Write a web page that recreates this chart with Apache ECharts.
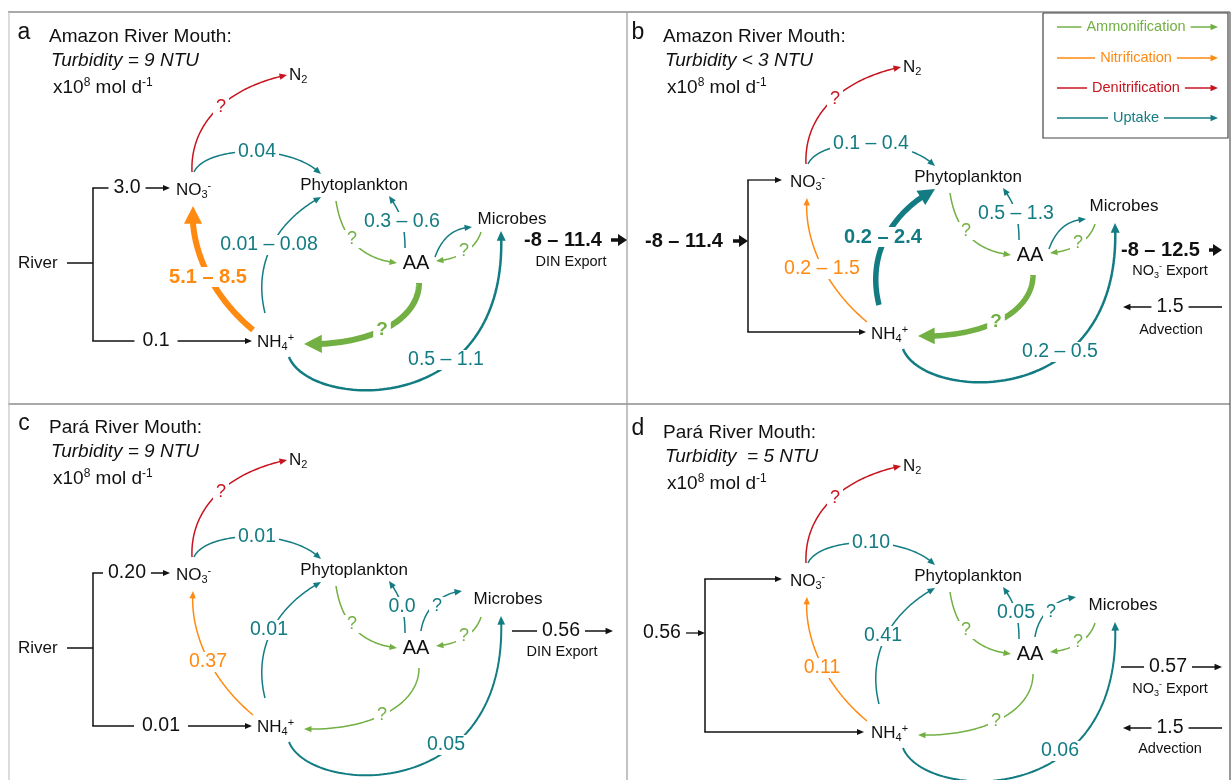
<!DOCTYPE html>
<html><head><meta charset="utf-8">
<script src="https://cdn.jsdelivr.net/npm/echarts@6/dist/echarts.min.js"></script>
<style>html,body{margin:0;padding:0;background:#fff}#c{width:1231px;height:780px}</style>
</head><body><div id="c"></div>
<script>
// ---------------- DATA ----------------
const panelLetters = ['a', 'b', 'c', 'd'];
const panelTitles = ['Amazon River Mouth:', 'Amazon River Mouth:', 'Pará River Mouth:', 'Pará River Mouth:'];
const turbidity = ['Turbidity = 9 NTU', 'Turbidity < 3 NTU', 'Turbidity = 9 NTU', 'Turbidity  = 5 NTU'];
const nodeNames = ['N2', 'NO3-', 'Phytoplankton', 'Microbes', 'AA', 'NH4+'];
const riverToNO3 = ['3.0', '', '0.20', ''];
const riverToNH4 = ['0.1', '', '0.01', ''];
const importFlux = ['', '-8 – 11.4', '', '0.56'];
const denitrification = ['?', '?', '?', '?'];
const uptakeNO3Phyto = ['0.04', '0.1 – 0.4', '0.01', '0.10'];
const nitrification = ['5.1 – 8.5', '0.2 – 1.5', '0.37', '0.11'];
const uptakeNH4Phyto = ['0.01 – 0.08', '0.2 – 2.4', '0.01', '0.41'];
const ammonPhytoAA = ['?', '?', '?', '?'];
const uptakeAAPhyto = ['0.3 – 0.6', '0.5 – 1.3', '0.0', '0.05'];
const uptakeAAMicrobes = ['', '', '?', '?'];
const ammonMicrobesAA = ['?', '?', '?', '?'];
const ammonAANH4 = ['?', '?', '?', '?'];
const uptakeNH4Microbes = ['0.5 – 1.1', '0.2 – 0.5', '0.05', '0.06'];
const exportFlux = ['-8 – 11.4', '-8 – 12.5', '0.56', '0.57'];
const exportName = ['DIN Export', 'NO3- Export', 'DIN Export', 'NO3- Export'];
const advection = ['', '1.5', '', '1.5'];
const legendNames = ['Ammonification', 'Nitrification', 'Denitrification', 'Uptake'];
const legendProcs = ['ammonification', 'nitrification', 'denitrification', 'uptake'];

// ---------------- STYLE / LAYOUT ----------------
const FONT = '"Liberation Sans", Arial, "DejaVu Sans", sans-serif';
const COLORS = { ammonification: '#72b043', nitrification: '#ff8a12', denitrification: '#c8141e', uptake: '#137c82', black: '#111111' };
const FLUX = { denitrification, uptakeNO3Phyto, nitrification, uptakeNH4Phyto, ammonPhytoAA, uptakeAAPhyto, uptakeAAMicrobes, ammonMicrobesAA, ammonAANH4, uptakeNH4Microbes };
const WIDTH = { nitrification: [6, 1.5, 1.5, 1.5], ammonAANH4: [6, 5.5, 1.5, 1.5], uptakeNH4Phyto: [1.5, 5.5, 1.5, 1.5], uptakeNH4Microbes: [2.5, 2.5, 2, 2] };
const PANEL_OFFSET = [[0, 0], [614, -8], [0, 385], [614, 391]];
const TITLE_OFFSET = [[0, 0], [614, 0], [0, 391], [614, 396]];
const NODE_LAYOUT = [[289, 75, 'left', 17], [176, 190, 'left', 17], [354, 185, 'center', 17], [510, 214, 'center', 17], [416, 263, 'center', 20], [257, 342, 'left', 17]];
const MICROBES_TWEAK = [[2, 5], [0, 0], [-2, 0], [-1, 0]];
const ARROW_TEMPLATE = [
  { flux: 'denitrification', proc: 'denitrification', p: [[192, 172], [190, 125], [225, 88], [287, 75]], lab: [221, 107] },
  { flux: 'uptakeNO3Phyto', proc: 'uptake', p: [[194, 172], [206, 146], [290, 143], [321, 174]], lab: [257, 152] },
  { flux: 'nitrification', proc: 'nitrification', p: [[253, 330], [205, 290], [190, 240], [193, 206]], lab: [208, 277] },
  { flux: 'uptakeNH4Phyto', proc: 'uptake', p: [[265, 313], [253, 265], [275, 222], [321, 197]], lab: [269, 245] },
  { flux: 'ammonPhytoAA', proc: 'ammonification', p: [[336, 201], [342, 240], [363, 259], [397, 263]], lab: [352, 239] },
  { flux: 'uptakeAAPhyto', proc: 'uptake', p: [[405, 248], [405, 222], [399, 210], [389, 196]], lab: [402, 222] },
  { flux: 'uptakeAAMicrobes', proc: 'uptake', p: [[435, 257], [442, 238], [453, 228], [472, 227]], lab: null, when: '' },
  { flux: 'uptakeAAMicrobes', proc: 'uptake', p: [[421, 246], [424, 225], [440, 208], [462, 206]], lab: [437, 221], when: '?' },
  { flux: 'ammonMicrobesAA', proc: 'ammonification', p: [[481, 232], [476, 248], [460, 259], [436, 261]], lab: [464, 251] },
  { flux: 'ammonAANH4', proc: 'ammonification', p: [[419, 283], [419, 320], [370, 346], [304, 344]], lab: [382, 330] },
  { flux: 'uptakeNH4Microbes', proc: 'uptake', p: [[289, 357], [310, 410], [510, 420], [501, 231]], lab: [446, 360] }
];
const LEFT_LAYOUT = [
  { kind: 'river', bx: 93, top: 188, bot: 341, topTip: 170, botTip: 252, topLab: 127, botLab: 156, riverY: 263 },
  { kind: 'import', bx: 134, top: 188, bot: 340, topTip: 168, botTip: 252, impY: 249, impLeft: 31, impArrow: [119, 134], bold: true },
  { kind: 'river', bx: 93, top: 188, bot: 341, topTip: 170, botTip: 252, topLab: 127, botLab: 161, riverY: 263 },
  { kind: 'import', bx: 91, top: 188, bot: 341, topTip: 168, botTip: 250, impY: 242, impLeft: 29, impArrow: [72, 91], bold: false }
];
const RIGHT_LAYOUT = [
  { kind: 'bold', y: 240, left: 524, arrow: [611, 627], name: [571, 262] },
  { kind: 'bold', y: 258, left: 507, arrow: [595, 608], name: [556, 279], adv: { y: 315, x: [608, 509], lab: 556, name: [557, 338] } },
  { kind: 'line', y: 246, x: [512, 613], lab: 561, name: [562, 267] },
  { kind: 'line', y: 276, x: [507, 608], lab: 554, name: [556, 298], adv: { y: 337, x: [608, 509], lab: 556, name: [556, 358] } }
];
const FRAME = [[[8, 12], [1230, 12], '#555'], [[8, 404], [1230, 404], '#555'], [[9, 12], [9, 780], '#c4c4c4'], [[627, 12], [627, 780], '#9a9a9a'], [[1230, 12], [1230, 780], '#555']];
const LEGEND_BOX = [[1043, 13], [1228, 13], [1228, 138], [1043, 138], [1043, 13]];
const LEGEND_ROWS = [27, 58, 88, 118];

// ---------------- BUILD ----------------
function rich(size, color, weight) {
  const s = Math.round(size * 0.64);
  return {
    m: { fontSize: size, lineHeight: size + 3, verticalAlign: 'middle', fill: color, fontFamily: FONT, fontWeight: weight || 'normal' },
    sub: { fontSize: s, lineHeight: s, verticalAlign: 'bottom', fill: color, fontFamily: FONT },
    sup: { fontSize: s, lineHeight: s, verticalAlign: 'top', fill: color, fontFamily: FONT }
  };
}
function chem(name) {
  const map = { 'N2': '{m|N}{sub|2}', 'NO3-': '{m|NO}{sub|3}{sup|-}', 'NH4+': '{m|NH}{sub|4}{sup|+}' };
  if (map[name]) return map[name];
  if (name.indexOf('NO3-') === 0) return '{m|NO}{sub|3}{sup|-}{m|' + name.slice(4) + '}';
  return '{m|' + name + '}';
}

const ARROWS = [];
const TEXTS = [];
const LINES = [];
function P(k, q) { const o = PANEL_OFFSET[k]; return [q[0] + o[0], q[1] + o[1]]; }

for (let k = 0; k < 4; k++) {
  // titles
  const to = TITLE_OFFSET[k];
  TEXTS.push({ x: 24 + to[0], y: 33 + to[1], text: panelLetters[k], size: 23, align: 'center' });
  TEXTS.push({ x: 49 + to[0], y: 37 + to[1], text: panelTitles[k], size: 19, align: 'left' });
  TEXTS.push({ x: 51 + to[0], y: 61 + to[1], text: turbidity[k], size: 19, align: 'left', italic: true });
  TEXTS.push({ x: 53 + to[0], y: 88 + to[1], text: '{m|x10}{sup|8}{m| mol d}{sup|-1}', rich: rich(19, '#111'), align: 'left' });
  // nodes
  nodeNames.forEach((n, i) => {
    const L = NODE_LAYOUT[i];
    let q = [L[0], L[1]];
    if (n === 'Microbes') q = [q[0] + MICROBES_TWEAK[k][0], q[1] + MICROBES_TWEAK[k][1]];
    const pt = P(k, q);
    TEXTS.push({ x: pt[0], y: pt[1], text: chem(n), rich: rich(L[3], '#111'), align: L[2] });
  });
  // process arrows
  ARROW_TEMPLATE.forEach(t => {
    const val = FLUX[t.flux][k];
    if (t.when !== undefined && t.when !== val) return;
    const w = (WIDTH[t.flux] || [1.5, 1.5, 1.5, 1.5])[k];
    const color = COLORS[t.proc];
    ARROWS.push({ pts: t.p.map(q => P(k, q)), color, w });
    if (t.lab && val) {
      const lp = P(k, t.lab);
      TEXTS.push({ x: lp[0], y: lp[1], text: val, size: val === '?' ? (w >= 5 ? 19 : 18) : (w >= 5 ? 20 : 19.5), color, weight: w >= 5 ? 'bold' : 'normal', bg: true, align: 'center' });
    }
  });
  // left side
  const LL = LEFT_LAYOUT[k];
  LINES.push({ pts: [P(k, [LL.bx, LL.top]), P(k, [LL.bx, LL.bot])], color: COLORS.black, w: 1.5 });
  ARROWS.push({ pts: [P(k, [LL.bx - 0.75, LL.top]), P(k, [LL.topTip, LL.top])], color: COLORS.black, w: 1.3 });
  ARROWS.push({ pts: [P(k, [LL.bx - 0.75, LL.bot]), P(k, [LL.botTip, LL.bot])], color: COLORS.black, w: 1.3 });
  if (LL.kind === 'river') {
    const rp = P(k, [18, LL.riverY]);
    TEXTS.push({ x: rp[0], y: rp[1], text: 'River', size: 17, align: 'left' });
    LINES.push({ pts: [P(k, [67, LL.riverY]), P(k, [LL.bx, LL.riverY])], color: COLORS.black, w: 1.5 });
    const a = P(k, [LL.topLab, LL.top]), b = P(k, [LL.botLab, LL.bot]);
    TEXTS.push({ x: a[0], y: a[1], text: riverToNO3[k], size: 19.5, align: 'center', bg: true, pad: [0, 5] });
    TEXTS.push({ x: b[0], y: b[1], text: riverToNH4[k], size: 19.5, align: 'center', bg: true, pad: [0, 8] });
  } else {
    const ip = P(k, [LL.impLeft, LL.impY]);
    TEXTS.push({ x: ip[0], y: ip[1], text: importFlux[k], size: LL.bold ? 20 : 19.5, weight: LL.bold ? 'bold' : 'normal', align: 'left' });
    ARROWS.push({ pts: [P(k, [LL.impArrow[0], LL.impY]), P(k, [LL.impArrow[1], LL.impY])], color: COLORS.black, w: LL.bold ? 3.5 : 1.3, headL: LL.bold ? 9 : 7, headW: LL.bold ? 12 : 6 });
  }
  // right side
  const R = RIGHT_LAYOUT[k];
  if (R.kind === 'bold') {
    const ep = P(k, [R.left, R.y]);
    TEXTS.push({ x: ep[0], y: ep[1], text: exportFlux[k], size: 20, weight: 'bold', align: 'left' });
    ARROWS.push({ pts: [P(k, [R.arrow[0], R.y]), P(k, [R.arrow[1], R.y])], color: COLORS.black, w: 3.5, headL: 9, headW: 12 });
  } else {
    ARROWS.push({ pts: [P(k, [R.x[0], R.y]), P(k, [R.x[1], R.y])], color: COLORS.black, w: 1.5 });
    const lp = P(k, [R.lab, R.y]);
    TEXTS.push({ x: lp[0], y: lp[1], text: exportFlux[k], size: 19.5, align: 'center', bg: true, pad: [0, 5] });
  }
  const np = P(k, R.name);
  TEXTS.push({ x: np[0], y: np[1], text: chem(exportName[k]), rich: rich(14.5, '#111'), align: 'center' });
  if (R.adv && advection[k]) {
    ARROWS.push({ pts: [P(k, [R.adv.x[0], R.adv.y]), P(k, [R.adv.x[1], R.adv.y])], color: COLORS.black, w: 1.5 });
    const ap = P(k, [R.adv.lab, R.adv.y]);
    TEXTS.push({ x: ap[0], y: ap[1], text: advection[k], size: 19.5, align: 'center', bg: true, pad: [0, 5] });
    const an = P(k, R.adv.name);
    TEXTS.push({ x: an[0], y: an[1], text: 'Advection', size: 14.5, align: 'center' });
  }
}
// legend
legendNames.forEach((n, i) => {
  const c = COLORS[legendProcs[i]];
  ARROWS.push({ pts: [[1057, LEGEND_ROWS[i]], [1218, LEGEND_ROWS[i]]], color: c, w: 1.5 });
  TEXTS.push({ x: 1136, y: LEGEND_ROWS[i], text: n, size: 14.5, color: c, align: 'center', bg: true, pad: [0, 5] });
});
FRAME.forEach(f => LINES.push({ pts: [f[0], f[1]], color: f[2], w: 1.2 }));
LINES.push({ pts: LEGEND_BOX, color: '#444', w: 1.2 });

// ---------------- RENDER ----------------
function sample(cp) {
  const pts = [];
  const N = cp.length === 4 ? 80 : 20;
  for (let i = 0; i <= N; i++) {
    const t = i / N, u = 1 - t;
    if (cp.length === 4) {
      pts.push([u * u * u * cp[0][0] + 3 * u * u * t * cp[1][0] + 3 * u * t * t * cp[2][0] + t * t * t * cp[3][0],
                u * u * u * cp[0][1] + 3 * u * u * t * cp[1][1] + 3 * u * t * t * cp[2][1] + t * t * t * cp[3][1]]);
    } else {
      pts.push([u * cp[0][0] + t * cp[1][0], u * cp[0][1] + t * cp[1][1]]);
    }
  }
  return pts;
}
function backAlong(pts, L) {
  let dist = 0;
  for (let i = pts.length - 2; i >= 0; i--) {
    const d = Math.hypot(pts[i + 1][0] - pts[i][0], pts[i + 1][1] - pts[i][1]);
    if (dist + d >= L) {
      const f = (L - dist) / d;
      return { i, p: [pts[i + 1][0] + (pts[i][0] - pts[i + 1][0]) * f, pts[i + 1][1] + (pts[i][1] - pts[i + 1][1]) * f] };
    }
    dist += d;
  }
  return { i: 0, p: pts[0] };
}
function renderArrow(params, api) {
  const a = ARROWS[api.value(0)];
  const cp = a.pts.map(q => api.coord(q));
  const pts = sample(cp);
  const tip = pts[pts.length - 1];
  const L = a.headL || (4 + 2.3 * a.w), W = a.headW || (2.5 + 2.6 * a.w);
  const base = backAlong(pts, L).p;
  const cut = backAlong(pts, L * 0.5);
  const line = pts.slice(0, cut.i + 1).concat([cut.p]);
  let dx = tip[0] - base[0], dy = tip[1] - base[1];
  const len = Math.hypot(dx, dy) || 1; dx /= len; dy /= len;
  const b = [tip[0] - dx * L, tip[1] - dy * L];
  const nx = -dy * W / 2, ny = dx * W / 2;
  return {
    type: 'group', children: [
      { type: 'polyline', shape: { points: line }, style: { stroke: a.color, lineWidth: a.w, fill: null, lineJoin: 'round' } },
      { type: 'polygon', shape: { points: [tip, [b[0] + nx, b[1] + ny], [b[0] - nx, b[1] - ny]] }, style: { fill: a.color } }
    ]
  };
}
function renderLine(params, api) {
  const l = LINES[api.value(0)];
  return { type: 'polyline', shape: { points: l.pts.map(q => api.coord(q)) }, style: { stroke: l.color, lineWidth: l.w, fill: null } };
}
function renderText(params, api) {
  const t = TEXTS[api.value(0)];
  const c = api.coord([t.x, t.y]);
  const style = {
    text: t.text, fill: t.color || '#111', fontSize: t.size || 17, fontFamily: FONT,
    fontWeight: t.weight || 'normal', fontStyle: t.italic ? 'italic' : 'normal',
    align: t.align || 'center', verticalAlign: 'middle'
  };
  if (t.rich) style.rich = t.rich;
  if (t.bg) { style.backgroundColor = '#ffffff'; style.padding = t.pad || [0, 3]; }
  return { type: 'text', x: c[0], y: c[1], style };
}

const chart = echarts.init(document.getElementById('c'));
chart.setOption({
  animation: false,
  backgroundColor: '#ffffff',
  grid: { left: 0, right: 0, top: 0, bottom: 0 },
  xAxis: { type: 'value', min: 0, max: 1231, show: false },
  yAxis: { type: 'value', min: 0, max: 780, inverse: true, show: false },
  series: [
    { type: 'custom', name: 'frame', coordinateSystem: 'cartesian2d', renderItem: renderLine, data: LINES.map((l, i) => [i, 0]), z: 1, silent: true, clip: false },
    { type: 'custom', name: 'fluxes', coordinateSystem: 'cartesian2d', renderItem: renderArrow, data: ARROWS.map((a, i) => [i, 0]), z: 2, silent: true, clip: false },
    { type: 'custom', name: 'labels', coordinateSystem: 'cartesian2d', renderItem: renderText, data: TEXTS.map((t, i) => [i, 0]), z: 5, silent: true, clip: false }
  ]
});
</script>
</body></html>
